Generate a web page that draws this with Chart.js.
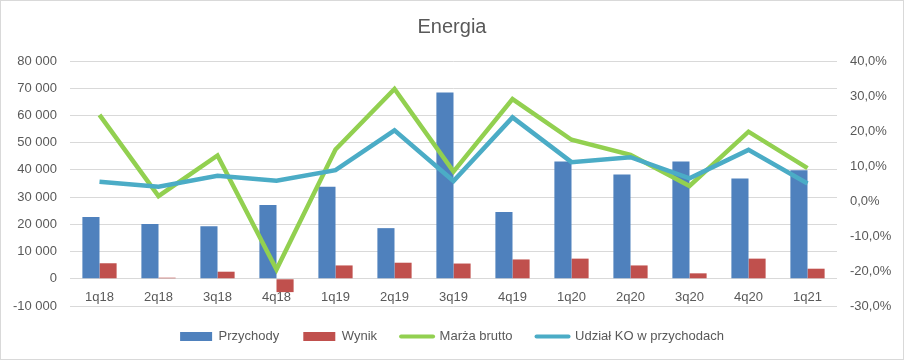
<!DOCTYPE html>
<html>
<head>
<meta charset="utf-8">
<title>Energia</title>
<script src="https://cdn.jsdelivr.net/npm/chart.js@4.4.1/dist/chart.umd.min.js"></script>
<style>
  html, body { margin: 0; padding: 0; background: #fff; }
</style>
</head>
<body>
<canvas id="energyChart" width="904" height="360"></canvas>
<script>
// dane
const quarters = ['1q18', '2q18', '3q18', '4q18', '1q19', '2q19', '3q19', '4q19', '1q20', '2q20', '3q20', '4q20', '1q21'];
const revenue = [22700, 20100, 19300, 27100, 33800, 18600, 68400, 24500, 43100, 38300, 43100, 36800, 39900];
const result = [5700, 400, 2600, -4900, 4900, 5900, 5600, 7100, 7400, 4900, 2000, 7400, 3700];
const grossMargin = [24.6, 1.4, 13.0, -19.6, 14.7, 32.0, 8.4, 29.1, 17.5, 13.2, 4.3, 19.8, 9.4];
const koShare = [5.5, 4.1, 7.2, 5.8, 8.8, 20.2, 5.7, 23.9, 11.1, 12.5, 6.5, 14.6, 5.0];

const textColor = '#595959';
const gridColor = '#d9d9d9';

Chart.defaults.font.family = "'Liberation Sans', Arial, sans-serif";
Chart.defaults.color = textColor;

function fmtThousands(v) {
    const s = Math.abs(v).toString().replace(/\B(?=(\d{3})+(?!\d))/g, ' ');
    return (v < 0 ? '-' : '') + s;
}

const frame = {
    id: 'frame',
    beforeDraw(chart) {
        const c = chart.ctx;
        c.save();
        c.fillStyle = '#fff';
        c.fillRect(0, 0, chart.width, chart.height);
        c.strokeStyle = gridColor;
        c.lineWidth = 1;
        c.strokeRect(0.5, 0.5, chart.width - 1, chart.height - 1);
        c.restore();
    }
};

const ctx = document.getElementById('energyChart').getContext('2d');
const energyChart = new Chart(ctx, {
    type: 'bar',
    data: {
        labels: quarters,
        datasets: [
            {
                label: 'Przychody',
                data: revenue,
                backgroundColor: '#4f81bd',
                yAxisID: 'y',
                order: 2
            },
            {
                label: 'Wynik',
                data: result,
                backgroundColor: '#c0504d',
                yAxisID: 'y',
                order: 3
            },
            {
                label: 'Marża brutto',
                data: grossMargin,
                type: 'line',
                borderColor: '#92d050',
                backgroundColor: '#92d050',
                borderWidth: 4.5,
                pointRadius: 0,
                fill: false,
                tension: 0,
                yAxisID: 'y1',
                order: 1
            },
            {
                label: 'Udział KO w przychodach',
                data: koShare,
                type: 'line',
                borderColor: '#4bacc6',
                backgroundColor: '#4bacc6',
                borderWidth: 4.5,
                pointRadius: 0,
                fill: false,
                tension: 0,
                yAxisID: 'y1',
                order: 0
            }
        ]
    },
    options: {
        responsive: false,
        animation: false,
        layout: { padding: { left: 0, right: 0, top: 0, bottom: 7 } },
        datasets: {
            bar: { categoryPercentage: 0.58, barPercentage: 1.0 }
        },
        scales: {
            x: {
                position: { y: 0 },
                grid: { display: false, drawTicks: false },
                border: { display: false },
                ticks: { color: textColor, font: { size: 13 }, padding: 11, maxRotation: 0 },
                afterFit: s => { s.height = 21; }
            },
            y: {
                position: 'left',
                min: -10000,
                max: 80000,
                grid: { color: gridColor, drawTicks: false },
                border: { display: false },
                ticks: {
                    stepSize: 10000,
                    color: textColor,
                    font: { size: 13 },
                    padding: 13,
                    callback: v => fmtThousands(v)
                },
                afterFit: s => { s.width = 70; }
            },
            y1: {
                position: 'right',
                min: -30,
                max: 40,
                grid: { display: false, drawTicks: false },
                border: { display: false },
                ticks: {
                    stepSize: 10,
                    color: textColor,
                    font: { size: 13 },
                    padding: 13,
                    callback: v => v.toFixed(1).replace('.', ',') + '%'
                },
                afterFit: s => { s.width = 67; }
            }
        },
        plugins: {
            title: {
                display: true,
                text: 'Energia',
                color: textColor,
                font: { size: 20, weight: 'normal' },
                padding: { top: 15, bottom: 22 }
            },
            legend: {
                display: true,
                position: 'bottom',
                labels: {
                    color: textColor,
                    font: { size: 13 },
                    usePointStyle: true,
                    pointStyleWidth: 32,
                    boxHeight: 9,
                    padding: 24,
                    generateLabels: chart => chart.data.datasets.map((ds, i) => {
                        const isLine = ds.type === 'line';
                        return {
                            text: ds.label,
                            datasetIndex: i,
                            fillStyle: ds.backgroundColor,
                            strokeStyle: isLine ? ds.borderColor : ds.backgroundColor,
                            lineWidth: isLine ? 4 : 0,
                            lineCap: 'round',
                            pointStyle: isLine ? 'line' : 'rect',
                            fontColor: textColor,
                            hidden: false
                        };
                    })
                }
            },
            tooltip: { enabled: false }
        }
    },
    plugins: [frame]
});
</script>
</body>
</html>
